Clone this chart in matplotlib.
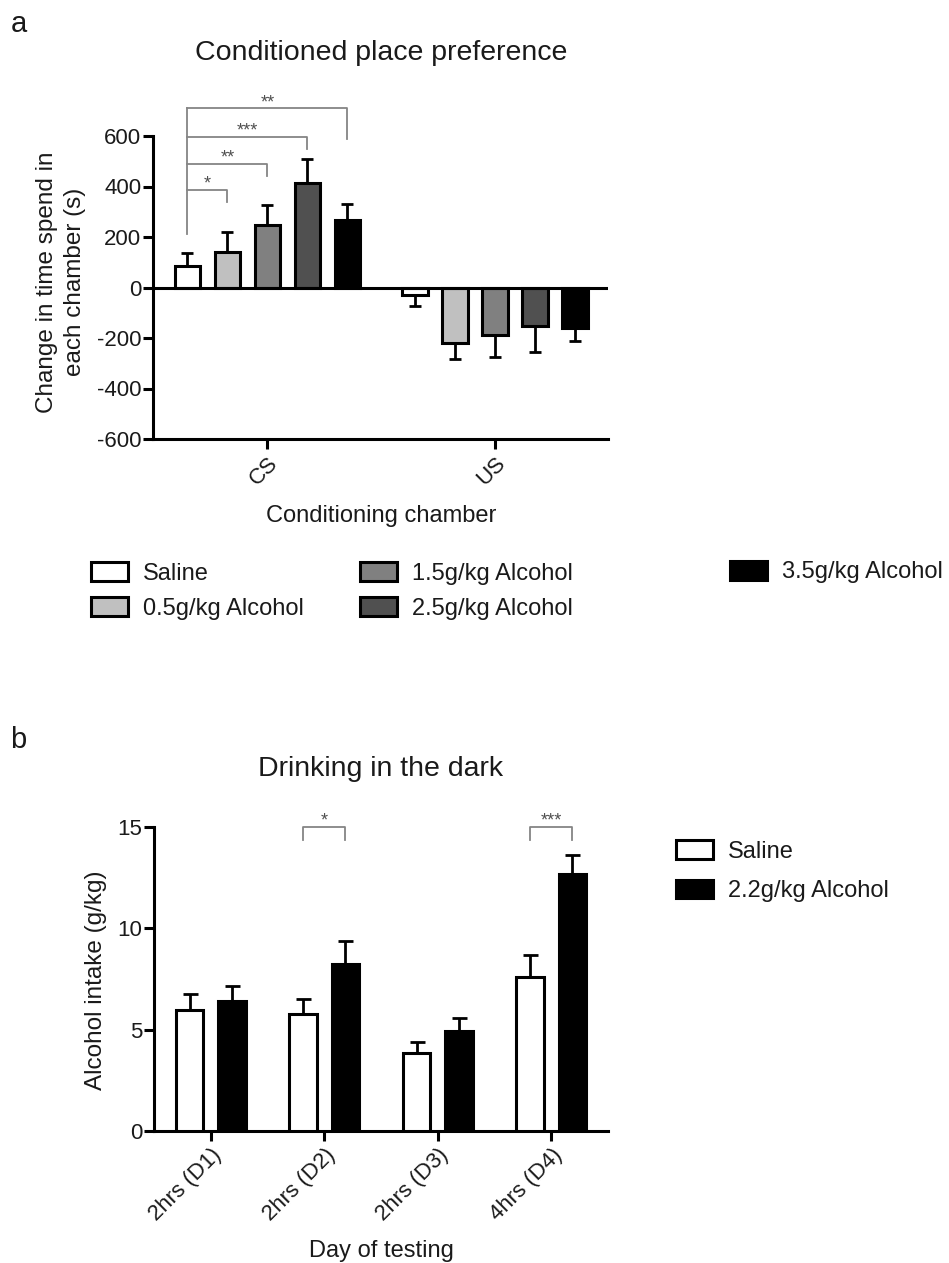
import numpy as np
import matplotlib
matplotlib.use('Agg')
import matplotlib.pyplot as plt
from matplotlib.patches import Patch

plt.rcParams['font.family'] = ['Liberation Sans', 'DejaVu Sans']
plt.rcParams['axes.unicode_minus'] = False

# ---------------- Panel a: Conditioned place preference ----------------
chambers = ['CS', 'US']
cpp_groups = ['Saline', '0.5g/kg Alcohol', '1.5g/kg Alcohol', '2.5g/kg Alcohol', '3.5g/kg Alcohol']
cpp_cs_mean = [86, 141, 247, 412, 267]
cpp_cs_sem = [49, 78, 81, 95, 63]
cpp_us_mean = [-30, -219, -189, -153, -159]
cpp_us_sem = [43, 66, 88, 103, 54]
cpp_sig_labels = ['*', '**', '***', '**']
cpp_sig_targets = [1, 2, 3, 4]
cpp_sig_heights = [388, 489, 597, 709]
cpp_sig_drops = [340, 441, 547, 590]
cpp_sig_base = 210

# ---------------- Panel b: Drinking in the dark ----------------
days = ['2hrs (D1)', '2hrs (D2)', '2hrs (D3)', '4hrs (D4)']
did_groups = ['Saline', '2.2g/kg Alcohol']
did_saline_mean = [5.95, 5.77, 3.84, 7.58]
did_saline_sem = [0.82, 0.74, 0.53, 1.09]
did_alcohol_mean = [6.39, 8.25, 4.94, 12.70]
did_alcohol_sem = [0.78, 1.11, 0.63, 0.94]
did_sig_days = [1, 3]
did_sig_labels = ['*', '***']
did_sig_height = 15.0
did_sig_drop = 14.36

# ---------------- style ----------------
W, H = 949, 1263
cpp_colors = ['white', '#c0c0c0', '#808080', '#505050', 'black']
did_colors = ['white', 'black']
LW = 2.2
TXT = '#1a1a1a'
BR = '#858585'


def fx(x):
    return x / W


def fy(y):
    return 1 - y / H


fig = plt.figure(figsize=(W / 100, H / 100), dpi=100)

# ---------- panel a ----------
ax1 = fig.add_axes([fx(153), fy(439), (608 - 153) / W, (439 - 136) / H])
group_centers = np.array([0.0, 5.6875])
offsets = np.arange(5) - 2
bw = 0.63
for i in range(5):
    xs = group_centers + offsets[i]
    hs = [cpp_cs_mean[i], cpp_us_mean[i]]
    ax1.bar(xs, hs, width=bw, color=cpp_colors[i], edgecolor='black',
            linewidth=LW, zorder=3, label=cpp_groups[i])
    yerr = [[0, cpp_us_sem[i]], [cpp_cs_sem[i], 0]]
    ax1.errorbar(xs, hs, yerr=yerr, fmt='none', ecolor='black', elinewidth=2.0,
                 capsize=4, capthick=2.0, zorder=2)
ax1.axhline(0, color='black', lw=LW, zorder=4)
ax1.set_xlim(-2.86, 8.51)
ax1.set_ylim(-600, 600)
ax1.set_yticks(np.arange(-600, 601, 200))
ax1.set_xticks(group_centers)
ax1.set_xticklabels(chambers, rotation=45, ha='right', rotation_mode='anchor')
for s in ['top', 'right']:
    ax1.spines[s].set_visible(False)
for s in ['left', 'bottom']:
    ax1.spines[s].set_linewidth(LW)
ax1.tick_params(axis='y', width=LW, length=7, labelsize=16, pad=1.5, labelcolor=TXT)
ax1.tick_params(axis='x', width=LW, length=7, labelsize=16, pad=3, labelcolor=TXT)

# significance brackets panel a
x0 = group_centers[0] + offsets[0]
ax1.plot([x0, x0], [cpp_sig_base, max(cpp_sig_heights)], color=BR, lw=1.3,
         clip_on=False, zorder=5)
for lbl, j, h, d in zip(cpp_sig_labels, cpp_sig_targets, cpp_sig_heights, cpp_sig_drops):
    xj = group_centers[0] + offsets[j]
    ax1.plot([x0, xj, xj], [h, h, d], color=BR, lw=1.3, clip_on=False, zorder=5)
    ax1.annotate(lbl, ((x0 + xj) / 2, h), xytext=(0, 1), textcoords='offset points',
                 ha='center', va='baseline', fontsize=13, color='#505050',
                 annotation_clip=False)

# ---------- panel b ----------
ax2 = fig.add_axes([fx(154), fy(1131), (608 - 154) / W, (1131 - 827) / H])
xd = np.arange(len(days))
off_b = 0.187
bw2 = 0.246
did_means = [did_saline_mean, did_alcohol_mean]
did_sems = [did_saline_sem, did_alcohol_sem]
for k in range(2):
    xs = xd + (-off_b if k == 0 else off_b)
    ax2.bar(xs, did_means[k], width=bw2, color=did_colors[k], edgecolor='black',
            linewidth=LW, zorder=3, label=did_groups[k])
    ax2.errorbar(xs, did_means[k], yerr=[np.zeros(len(days)), did_sems[k]], fmt='none',
                 ecolor='black', elinewidth=2.0, capsize=5.4, capthick=2.0, zorder=2)
ax2.set_xlim(-0.5, 3.5)
ax2.set_ylim(0, 15)
ax2.set_yticks([0, 5, 10, 15])
ax2.set_xticks(xd)
ax2.set_xticklabels(days, rotation=45, ha='right', rotation_mode='anchor')
for s in ['top', 'right']:
    ax2.spines[s].set_visible(False)
for s in ['left', 'bottom']:
    ax2.spines[s].set_linewidth(LW)
ax2.tick_params(axis='y', width=LW, length=7, labelsize=16, pad=1.5, labelcolor=TXT)
ax2.tick_params(axis='x', width=LW, length=7, labelsize=16, pad=3, labelcolor=TXT)

for d, lbl in zip(did_sig_days, did_sig_labels):
    xa, xb = d - off_b, d + off_b
    ax2.plot([xa, xa, xb, xb], [did_sig_drop, did_sig_height, did_sig_height, did_sig_drop],
             color=BR, lw=1.3, clip_on=False, zorder=5)
    ax2.annotate(lbl, (d, did_sig_height), xytext=(0, 1), textcoords='offset points',
                 ha='center', va='baseline', fontsize=13, color='#505050',
                 annotation_clip=False)

# ---------- texts ----------
fig.text(fx(11), fy(32), 'a', fontsize=21, ha='left', va='baseline', color=TXT)
fig.text(fx(10), fy(748), 'b', fontsize=21, ha='left', va='baseline', color=TXT)
fig.text(fx(381), fy(60), 'Conditioned place preference', fontsize=20.5,
         ha='center', va='baseline', color=TXT)
fig.text(fx(381), fy(776), 'Drinking in the dark', fontsize=20.5,
         ha='center', va='baseline', color=TXT)
fig.text(fx(381), fy(522), 'Conditioning chamber', fontsize=17,
         ha='center', va='baseline', color=TXT)
fig.text(fx(381), fy(1257), 'Day of testing', fontsize=17,
         ha='center', va='baseline', color=TXT)
fig.text(fx(61), fy(282), 'Change in time spend in\neach chamber (s)', fontsize=17.5,
         rotation=90, ha='center', va='center', linespacing=1.4,
         multialignment='center', color=TXT)
fig.text(fx(96), fy(980), 'Alcohol intake (g/kg)', fontsize=17.5,
         rotation=90, ha='center', va='center', color=TXT)

# ---------- legends ----------
cpp_handles = [Patch(facecolor=c, edgecolor='black', linewidth=LW) for c in cpp_colors]
leg_kw = dict(frameon=False, fontsize=17, handlelength=1.55, handleheight=0.85,
              handletextpad=0.64, borderpad=0, borderaxespad=0, loc='center left',
              labelcolor=TXT)
fig.legend(cpp_handles[0:2], cpp_groups[0:2], bbox_to_anchor=(fx(91), fy(591)),
           labelspacing=0.55, **leg_kw)
fig.legend(cpp_handles[2:4], cpp_groups[2:4], bbox_to_anchor=(fx(360), fy(591)),
           labelspacing=0.55, **leg_kw)
fig.legend(cpp_handles[4:5], cpp_groups[4:5], bbox_to_anchor=(fx(730), fy(572)),
           labelspacing=0.55, **leg_kw)
did_handles = [Patch(facecolor=c, edgecolor='black', linewidth=LW) for c in did_colors]
fig.legend(did_handles, did_groups, bbox_to_anchor=(fx(676), fy(871)),
           labelspacing=0.72, **leg_kw)

fig.savefig('out.png', dpi=100)
